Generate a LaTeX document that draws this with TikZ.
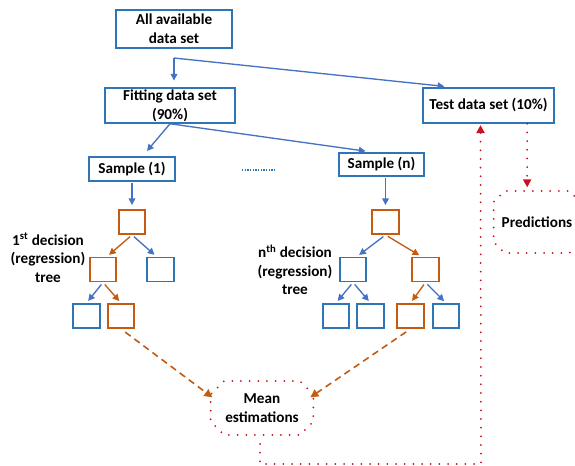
\documentclass[tikz,border=0pt]{standalone}
\usepackage{fontspec}
\setmainfont{Carlito}
\usepackage{tikz}
\usetikzlibrary{arrows.meta,positioning,shapes.misc,calc}
\definecolor{bBox}{RGB}{46,117,182}
\definecolor{bArr}{RGB}{68,114,196}
\definecolor{oTree}{RGB}{197,90,17}
\definecolor{rDot}{RGB}{200,16,30}

\begin{document}
\begin{tikzpicture}[x=0.75pt,y=-0.75pt,font=\bfseries\fontsize{11.4}{14}\selectfont,
  d/.style={draw=bBox,line width=1.4pt,align=center,inner sep=1pt},
  tb/.style={draw=bBox,line width=1.4pt,minimum width=20pt,minimum height=18pt,inner sep=0pt},
  to/.style={draw=oTree,line width=1.4pt,minimum width=20pt,minimum height=18pt,inner sep=0pt},
  a/.style={-{Triangle[length=5pt,width=5pt]},line width=1pt,bArr},
  ao/.style={-{Triangle[length=5pt,width=5pt]},line width=1pt,oTree},
  od/.style={-{Triangle[length=6pt,width=6pt]},line width=1.2pt,oTree,dash pattern=on 5pt off 3.5pt},
  rd/.style={line width=1.5pt,rDot,line cap=round,dash pattern=on 0pt off 6.5pt},
  ra/.style={rd,-{Triangle[length=6pt,width=6pt]}},
  cb/.style={draw=rDot,line width=1.5pt,line cap=round,dash pattern=on 0pt off 6.5pt,
    chamfered rectangle,align=center,text=black,inner sep=1pt},
  lbl/.style={align=center}]
  \useasboundingbox (0,0) rectangle (575,466);
  % data sets
  \node[d,minimum width=87pt,minimum height=28.5pt] (all) at (174,29) {All available\\data set};
  \node[d,minimum width=98pt,minimum height=26pt] (fit) at (170,105.5) {Fitting data set\\(90\%)};
  \node[d,minimum width=98pt,minimum height=26pt] (test) at (488.5,105.5) {Test data set (10\%)};
  \coordinate (split) at (174,58);
  \draw[a,shorten >=5pt] (split) -- (fit.north -| split);
  \draw[a,shorten >=6pt] (split) -- ([xshift=22.5pt]test.north west);
  % samples
  \node[d,minimum width=64.5pt,minimum height=18pt] (s1) at (132,169) {Sample (1)};
  \node[d,minimum width=64pt,minimum height=17.5pt] (sn) at (381.5,164.5) {Sample (n)};
  \draw[a,shorten >=5pt] (fit.south) -- ([xshift=8pt]s1.north);
  \draw[a,shorten >=4pt] (fit.south) -- ([xshift=-8pt]sn.north);
  \draw[bBox,line width=1pt,densely dotted] (242,170) coordinate (dl) -- (276,170) coordinate (dr);
  % 1st tree
  \node[to] (r1) at (132,222) {};
  \node[to] (l1) at (103,269.5) {};
  \node[tb] (q1) at (160.5,269.5) {};
  \node[tb] (ll1) at (86.5,316) {};
  \node[to] (lr1) at (121,316) {};
  \draw[a,shorten <=1pt,shorten >=3pt] (s1.south) -- (r1.north);
  \draw[ao,shorten <=2pt,shorten >=2pt] (r1.south) -- ([xshift=3pt]l1.north);
  \draw[a,shorten <=2pt,shorten >=2pt] (r1.south) -- ([xshift=-3pt]q1.north);
  \draw[a,shorten <=2pt,shorten >=2pt] (l1.south) -- (ll1.north);
  \draw[ao,shorten <=2pt,shorten >=2pt] (l1.south) -- (lr1.north);
  \node[lbl] (t1) at (48,258) {1\textsuperscript{st} decision\\(regression)\\tree};
  % nth tree
  \node[to] (rn) at (385.5,222) {};
  \node[tb] (ln) at (353,269.5) {};
  \node[to] (qn) at (425.5,269.5) {};
  \node[tb] (lln) at (336,316) {};
  \node[tb] (lrn) at (370.5,316) {};
  \node[to] (qln) at (410.5,316) {};
  \node[tb] (qrn) at (446,316) {};
  \draw[a,shorten <=1pt,shorten >=3pt] (sn.south -| rn) -- (rn.north);
  \draw[a,shorten <=2pt,shorten >=2pt] (rn.south) -- ([xshift=3pt]ln.north);
  \draw[ao,shorten <=2pt,shorten >=2pt] (rn.south) -- ([xshift=-3pt]qn.north);
  \draw[a,shorten <=2pt,shorten >=2pt] (ln.south) -- (lln.north);
  \draw[a,shorten <=2pt,shorten >=2pt] (ln.south) -- (lrn.north);
  \draw[ao,shorten <=2pt,shorten >=2pt] (qn.south) -- (qln.north);
  \draw[a,shorten <=2pt,shorten >=2pt] (qn.south) -- (qrn.north);
  \node[lbl] (tn) at (295,270) {n\textsuperscript{th} decision\\(regression)\\tree};
  % results
  \node[cb,minimum width=77pt,minimum height=40.5pt,chamfered rectangle xsep=7pt] (mean) at (262,408) {Mean\\estimations};
  \node[cb,minimum width=58.5pt,minimum height=46.5pt,chamfered rectangle xsep=9pt] (pred) at (537,222) {Predictions};
  \draw[od,shorten <=4pt] (lr1.south) -- ([xshift=2pt,yshift=8pt]mean.west);
  \draw[od,shorten <=4pt] (qln.south) -- ([xshift=-3pt,yshift=8pt]mean.east);
  \coordinate (low) at (481,464);
  \draw[ra,shorten <=6pt,shorten >=1pt] ([xshift=-1.5pt]mean.south) |- (low) -- ([xshift=-6pt]test.south);
  \coordinate (tp) at ([xshift=29pt]test.south);
  \draw[ra,shorten >=2pt] (tp) -- (tp |- pred.north);
\end{tikzpicture}
\end{document}
